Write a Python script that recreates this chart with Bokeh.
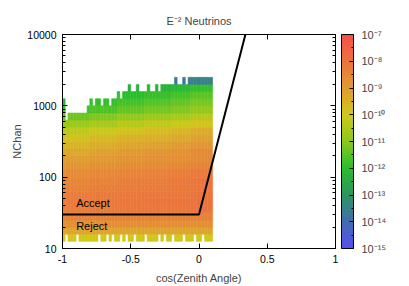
import numpy as np
from bokeh.plotting import figure
from bokeh.models import (LinearColorMapper, ColorBar, FixedTicker, CustomJSTickFormatter,
                          LinearAxis, LogAxis, ColumnDataSource)
from bokeh.transform import transform
from bokeh.core.properties import value
from bokeh.embed import file_html
from bokeh.resources import INLINE

FONT = "Liberation Sans"

# ---- data ----
title_text = "E\u207b\u00b2 Neutrinos"
cos_start = -1.0
cos_bin = 0.02
logn_start = 1.1
logn_bin = 0.1

# log10(rate) per NChan row (left-hand columns), rows from log10(N)=1.1 upward
row_base = [-10.0, -9.2, -8.7, -8.4, -8.25, -8.2, -8.25, -8.35, -8.5, -8.65,
            -8.85, -9.05, -9.3, -9.55, -9.85, -10.3, -10.8, -11.3, -11.8, -12.1,
            -12.4, -12.8, -14.4]
# how strongly each row brightens toward the horizon
row_weight = [0, 0, 0, 0, 0.25, 0.25, 0.25, 0.25, 0.5, 0.5,
              0.5, 0.5, 0.8, 0.8, 0.8, 1, 1, 1, 1, 1,
              1, 1, 1]
# per-column brightening (decades), columns from cos=-1 in 0.02 steps
col_shift = [0, 0, 0, 0, 0, 0, 0, 0, 0, 0,
             0.2, 0.2, 0.2, 0.2, 0.2, 0.2, 0.2, 0.2, 0.2, 0.2,
             0.4, 0.4, 0.4, 0.4, 0.4, 0.4, 0.4, 0.4, 0.4, 0.4,
             0.55, 0.55, 0.55, 0.55, 0.55, 0.55, 0.55, 0.55, 0.55, 0.55,
             0.7, 0.7, 0.7, 0.7, 0.7, 0.7, 0.7,
             0.9, 0.9, 0.9, 0.9, 0.9, 0.9, 0.9, 0.9]
# highest filled row per column
col_top = [19, 16, 17, 17, 17, 17, 17, 17, 17, 18,
           19, 18, 19, 19, 18, 19, 19, 18, 19, 19,
           20, 19, 20, 20, 21, 20, 20, 21, 20, 20,
           20, 21, 20, 20, 21, 20, 21, 21, 21, 21,
           21, 22, 21, 21, 22, 21, 22, 22, 22, 22,
           22, 22, 22, 22, 22]
# empty cells in the lowest row
bottom_holes = [1, 5, 13, 16, 18, 21, 23, 26, 30, 35, 37, 40, 44, 48, 51]

cut_cos = [-1.0, 0.0, 0.34]
cut_nchan = [30, 30, 10000]

accept_pos = (-0.9, 43)
reject_pos = (-0.9, 20.5)

cb_ticks = [-15, -14, -13, -12, -11, -10, -9, -8, -7]
x_ticks = [-1, -0.5, 0, 0.5, 1]
y_ticks = [10, 100, 1000, 10000]

# ---- build grid ----
L, R, B, T, V = [], [], [], [], []
for c in range(len(col_top)):
    for k in range(col_top[c] + 1):
        if k == 0 and c in bottom_holes:
            continue
        L.append(cos_start + c * cos_bin)
        R.append(cos_start + (c + 1) * cos_bin)
        B.append(10 ** (logn_start + k * logn_bin))
        T.append(10 ** (logn_start + (k + 1) * logn_bin))
        V.append(row_base[k] + col_shift[c] * row_weight[k])
src = ColumnDataSource(dict(left=L, right=R, bottom=B, top=T, v=V))

# palette
stops = [(-15, (85, 80, 240)), (-14, (65, 110, 175)), (-13, (45, 150, 95)),
         (-12, (40, 190, 45)), (-11, (140, 200, 30)), (-10, (208, 200, 25)),
         (-9, (225, 155, 50)), (-8, (235, 115, 60)), (-7, (245, 80, 75))]
sv = np.array([s[0] for s in stops], float)
sc = np.array([s[1] for s in stops], float)
grid = np.linspace(-15, -7, 256)
palette = ["#%02x%02x%02x" % tuple(int(round(np.interp(g, sv, sc[:, i]))) for i in range(3)) for g in grid]
mapper = LinearColorMapper(palette=palette, low=-15, high=-7)

p = figure(width=409, height=286, x_range=(-1, 1), y_range=(10, 10000), y_axis_type="log",
           output_backend="svg", toolbar_location=None,
           min_border_left=62, min_border_right=74, min_border_top=34, min_border_bottom=38)
p.title.text = title_text
p.title.align = "center"
p.title.text_font = FONT
p.title.text_font_size = "11px"
p.title.text_font_style = "normal"
p.title.standoff = 15
p.xgrid.visible = False
p.ygrid.visible = False
p.outline_line_color = "black"
p.outline_line_width = 1

p.quad(left="left", right="right", bottom="bottom", top="top", source=src,
       fill_color=transform("v", mapper), line_color=transform("v", mapper), line_width=0.5)

p.line(cut_cos, cut_nchan, line_color="black", line_width=2)

p.text(x=[accept_pos[0]], y=[accept_pos[1]], text=["Accept"], text_font=value(FONT),
       text_font_size="11px", text_baseline="middle", text_color="black")
p.text(x=[reject_pos[0]], y=[reject_pos[1]], text=["Reject"], text_font=value(FONT),
       text_font_size="11px", text_baseline="middle", text_color="black")

xfmt = CustomJSTickFormatter(code="return tick.toString();")
yfmt = CustomJSTickFormatter(code="return tick.toFixed(0);")
blank = CustomJSTickFormatter(code="return '';")
minor_y = [m * d for d in (10, 100, 1000) for m in range(2, 10)]

def style_axis(ax):
    ax.major_tick_in = 5
    ax.major_tick_out = 0
    ax.minor_tick_in = 3
    ax.minor_tick_out = 0
    ax.axis_line_color = "black"
    ax.major_tick_line_color = "black"
    ax.minor_tick_line_color = "black"
    ax.major_label_text_font = FONT
    ax.major_label_text_font_size = "10.5px"
    ax.major_label_text_color = "black"
    ax.axis_label_text_font = FONT
    ax.axis_label_text_font_size = "11px"
    ax.axis_label_text_font_style = "normal"

xa = p.xaxis[0]
xa.ticker = FixedTicker(ticks=x_ticks, minor_ticks=[])
xa.formatter = xfmt
xa.axis_label = "cos(Zenith Angle)"
style_axis(xa)
xa.major_label_standoff = 6
xa.axis_label_standoff = 6

ya = p.yaxis[0]
ya.ticker = FixedTicker(ticks=y_ticks, minor_ticks=minor_y)
ya.formatter = yfmt
ya.axis_label = "NChan"
style_axis(ya)
ya.major_label_standoff = 6
ya.axis_label_standoff = 1

top_ax = LinearAxis(ticker=FixedTicker(ticks=x_ticks, minor_ticks=[]), formatter=blank)
style_axis(top_ax)
top_ax.major_label_standoff = 0
p.add_layout(top_ax, "above")

right_ax = LogAxis(ticker=FixedTicker(ticks=y_ticks, minor_ticks=minor_y), formatter=blank)
style_axis(right_ax)
right_ax.major_label_standoff = 0
p.add_layout(right_ax, "right")

# invisible spacer between the frame and the colour bar
spacer = LogAxis(ticker=FixedTicker(ticks=y_ticks, minor_ticks=[]), formatter=blank)
spacer.axis_line_color = None
spacer.major_tick_line_color = None
spacer.minor_tick_line_color = None
spacer.major_tick_in = 0
spacer.major_tick_out = 6
spacer.major_label_standoff = 0
p.add_layout(spacer, "right")

cbfmt = CustomJSTickFormatter(code="""
const sup = {'-':'\u207b','0':'\u2070','1':'\u00b9','2':'\u00b2','3':'\u00b3','4':'\u2074','5':'\u2075','6':'\u2076','7':'\u2077','8':'\u2078','9':'\u2079'};
return '10' + String(tick).split('').map(c => sup[c]).join('');
""")
cb = ColorBar(color_mapper=mapper, ticker=FixedTicker(ticks=cb_ticks, minor_ticks=[t + 0.5 for t in cb_ticks[:-1]]),
              formatter=cbfmt, width=12, padding=0, margin=0, label_standoff=8,
              major_label_text_font=FONT, major_label_text_font_size="11px",
              bar_line_color="black", major_tick_line_color="black", minor_tick_line_color="black",
              major_tick_in=4, major_tick_out=0, minor_tick_in=2, minor_tick_out=0,
              border_line_color=None)
p.add_layout(cb, "right")

open("out.html", "w").write(file_html(p, INLINE))
